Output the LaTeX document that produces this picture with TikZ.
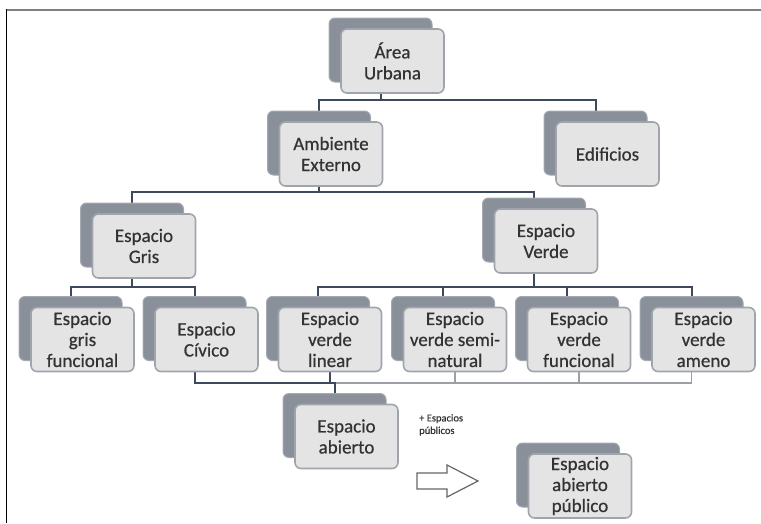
\documentclass[tikz,border=0pt]{standalone}
\usepackage{fontspec}
\setmainfont{Carlito}
\newfontfamily\caixafont{Carlito}[FakeBold=0.6]
\usepackage{tikz}
\usetikzlibrary{backgrounds}
\definecolor{fundo}{HTML}{8A909A}
\definecolor{fundoborda}{HTML}{A4A9B1}
\definecolor{frente}{HTML}{E4E4E4}
\definecolor{frenteborda}{HTML}{A0A5AC}
\definecolor{linha}{HTML}{3C4A5C}
\definecolor{linhaclara}{HTML}{9CA0A6}
\definecolor{texto}{HTML}{333333}
\begin{document}
\begin{tikzpicture}[x=1pt,y=-1pt,
  tras/.style={draw=fundoborda,fill=fundo,line width=1pt,rounded corners=6pt,minimum width=103pt,minimum height=64pt,inner sep=0pt},
  caixa/.style={draw=frenteborda,fill=frente,line width=1.6pt,rounded corners=6pt,minimum width=103pt,minimum height=64pt,inner sep=2pt,align=center,text=texto,font=\caixafont\fontsize{19}{21}\selectfont},
  conn/.style={draw=linha,line width=2pt},
  connclara/.style={draw=linhaclara,line width=1.5pt}]
  \useasboundingbox (0,0) rectangle (761,523);
  \draw[gray,line width=2pt](6,9.5)--(761,9.5);
  \draw[black,line width=1.5pt](6.5,9)--(6.5,523);
  % level 0 and 1
  \node[tras] (urbB) at (380.5,50){};
  \node[caixa] (urb) at (392.5,61){Área\\Urbana};
  \node[tras] (ambB) at (319,143){};
  \node[caixa] (amb) at (331,154){Ambiente\\Externo};
  \node[tras] (ediB) at (595.5,143){};
  \node[caixa] (edi) at (607.5,154){Edificios};
  % level 2
  \node[tras] (griB) at (132,235){};
  \node[caixa] (gri) at (144,246){Espacio\\Gris};
  \node[tras] (verB) at (534,230){};
  \node[caixa] (ver) at (546,241){Espacio\\Verde};
  % level 3
  \node[tras] (gfuB) at (70.5,328.5){};
  \node[caixa] (gfu) at (82.5,339.5){Espacio\\gris\\funcional};
  \node[tras] (civB) at (194.5,328.5){};
  \node[caixa] (civ) at (206.5,339.5){Espacio\\Cívico};
  \node[tras] (vliB) at (318,328.5){};
  \node[caixa] (vli) at (330,339.5){Espacio\\verde\\linear};
  \node[tras] (vsnB) at (443,328.5){};
  \node[caixa] (vsn) at (455,339.5){Espacio\\verde semi-\\natural};
  \node[tras] (vfuB) at (567,328.5){};
  \node[caixa] (vfu) at (579,339.5){Espacio\\verde\\funcional};
  \node[tras] (vamB) at (691.5,328.5){};
  \node[caixa] (vam) at (703.5,339.5){Espacio\\verde\\ameno};
  % bottom
  \node[tras] (abeB) at (334.5,425.5){};
  \node[caixa] (abe) at (346.5,436.5){Espacio\\abierto};
  \node[tras] (pubB) at (568,475){};
  \node[caixa] (pub) at (580,486){Espacio\\abierto\\público};
  \node[anchor=north west,align=left,inner sep=0pt,text=texto,font=\caixafont\fontsize{10.5}{12.5}\selectfont] (nota) at (419,414){+ Espacios\\públicos};
  \draw[draw=gray!80!black,line width=1.2pt,fill=white](417,473)--(447,473)--(447,465)--(478,481)--(447,497)--(447,489)--(417,489)--cycle;
  \coordinate (j1) at (380.5,100);
  \coordinate (j2) at (319,192);
  \coordinate (j3) at (132,287);
  \coordinate (j4) at (534,287);
  \coordinate (j5) at (334.5,383);
  \begin{scope}[on background layer]
  \draw[conn](urbB.south)--(j1)-|(ambB.north);
  \draw[conn](j1)-|(ediB.north);
  \draw[conn](ambB.south)--(j2)-|(griB.north);
  \draw[conn](j2)-|(verB.north);
  \draw[conn](griB.south)--(j3)-|(gfuB.north);
  \draw[conn](j3)-|(civB.north);
  \draw[conn](verB.south)--(j4)-|(vliB.north);
  \draw[conn](j4)-|(vsnB.north);
  \draw[conn](j4)-|(vfuB.north);
  \draw[conn](j4)-|(vamB.north);
  \draw[connclara](vamB.south)|-(j5);
  \draw[connclara](vsn.south)|-(j5);
  \draw[connclara](vfu.south)|-(j5);
  \draw[conn](civB.south)|-(j5)--(abeB.north);
  \draw[conn](vli.south)|-(j5);
  \end{scope}
\end{tikzpicture}
\end{document}
